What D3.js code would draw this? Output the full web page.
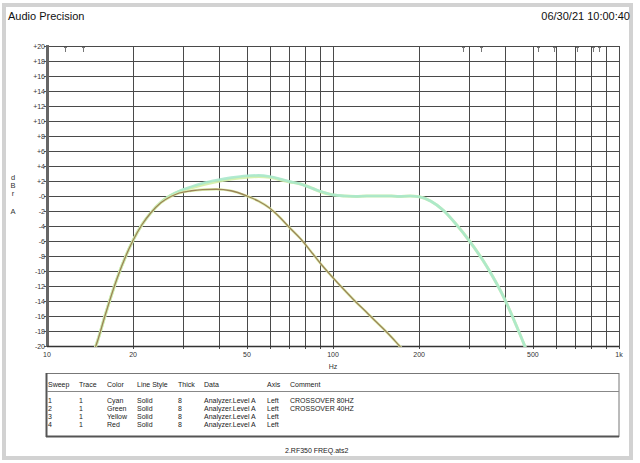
<!DOCTYPE html>
<html>
<head>
<meta charset="utf-8">
<script src="https://cdn.jsdelivr.net/npm/d3@7"></script>
<style>
  html, body { margin: 0; padding: 0; background: #fff; }
  svg { display: block; font-family: "Liberation Sans", Arial, sans-serif; }
</style>
</head>
<body>
<svg id="chart" width="640" height="463"></svg>
<script>
// sweep frequencies (Hz) and levels (dBr A)
const freqHz = [14, 15, 16, 17.5, 20, 21.5, 23, 25, 27, 29, 32, 35, 39, 44, 50, 55, 60, 65, 70, 77, 85, 90, 100, 110, 120, 131, 140, 150, 160, 170, 186, 200, 220, 243, 270, 300, 345, 400, 440, 480];

const cyanDb   = [-22.5, -19.4, -15.8, -11.2, -5.9, -3.8, -2.3, -0.85, 0.05, 0.65, 1.25, 1.7, 2.1, 2.45, 2.7, 2.75, 2.6, 2.3, 1.95, 1.6, 1.0, 0.65, 0.15, 0.0, -0.05, 0.0, 0.0, 0.0, 0.0, -0.05, 0.0, -0.1, -0.7, -1.9, -3.8, -6.0, -9.4, -13.9, -17.5, -21];
const yellowDb = [-22.5, -19.4, -15.8, -11.2, -5.9, -3.8, -2.3, -0.85, 0.05, 0.6, 1.1, 1.5, 1.9, 2.25, 2.5, 2.6, 2.5, 2.2, 1.9, 1.6, 1.0, 0.6, 0.15, 0.0, -0.05, 0.0, 0.0, 0.0, 0.0, -0.05, 0.0, -0.1, -0.7, -1.9, -3.8, -6.0, -9.4, -13.9, -17.5, -21];
const greenDb  = [-22.5, -19.4, -15.8, -11.2, -5.9, -3.8, -2.3, -0.9, -0.1, 0.4, 0.7, 0.85, 0.9, 0.7, 0.0, -0.7, -1.6, -2.8, -4.1, -5.7, -7.7, -8.9, -10.9, -12.6, -14.1, -15.5, -16.6, -17.7, -18.8, -19.9, -21.5, -23, -25, -27, -29, -31, -33, -35, -37, -39];
const redDb    = [-22.5, -19.4, -15.8, -11.2, -5.9, -3.8, -2.3, -0.9, -0.1, 0.4, 0.7, 0.85, 0.9, 0.7, 0.0, -0.7, -1.6, -2.8, -4.1, -5.7, -7.7, -8.9, -10.9, -12.6, -14.1, -15.5, -16.6, -17.7, -18.8, -19.9, -21.5, -23, -25, -27, -29, -31, -33, -35, -37, -39];

const yTicks = [20, 18, 16, 14, 12, 10, 8, 6, 4, 2, 0, -2, -4, -6, -8, -10, -12, -14, -16, -18, -20];
const xGridHz = [20, 30, 40, 50, 60, 70, 80, 90, 100, 200, 300, 400, 500, 600, 700, 800, 900, 1000];
const xLabelHz = [10, 20, 50, 100, 200, 500, 1000];
const cursorHz = [11.6, 13.4, 285, 329, 521, 593, 713, 811, 851];

const legendHead = ["Sweep", "Trace", "Color", "Line Style", "Thick", "Data", "Axis", "Comment"];
const legendRows = [
  ["1", "1", "Cyan",   "Solid", "8", "Analyzer.Level A", "Left", "CROSSOVER 80HZ"],
  ["2", "1", "Green",  "Solid", "8", "Analyzer.Level A", "Left", "CROSSOVER 40HZ"],
  ["3", "1", "Yellow", "Solid", "8", "Analyzer.Level A", "Left", ""],
  ["4", "1", "Red",    "Solid", "8", "Analyzer.Level A", "Left", ""]
];

const svg = d3.select("#chart");
const L = 47, R = 619, T = 46, B = 346;

const x = d3.scaleLog().domain([10, 1000]).range([L, R]);
const y = d3.scaleLinear().domain([-20, 20]).range([B, T]);

// outer frame
svg.append("rect")
  .attr("x", 4).attr("y", 5).attr("width", 627).attr("height", 453)
  .attr("fill", "none").attr("stroke", "#d2d2d2").attr("stroke-width", 4);

svg.append("text").attr("x", 8).attr("y", 20)
  .attr("font-size", 11).attr("fill", "#111").text("Audio Precision");
svg.append("text").attr("x", 630).attr("y", 20).attr("text-anchor", "end")
  .attr("font-size", 11).attr("fill", "#111").text("06/30/21 10:00:40");

// grid
let grid = svg.append("g").attr("stroke", "#4a4a4a").attr("stroke-width", 1);
grid.selectAll("line.h").data(yTicks).enter().append("line")
  .attr("x1", L).attr("x2", R)
  .attr("y1", d => Math.round(y(d)) + 0.5).attr("y2", d => Math.round(y(d)) + 0.5);
grid.selectAll("line.v").data(xGridHz).enter().append("line")
  .attr("x1", d => Math.round(x(d)) + 0.5).attr("x2", d => Math.round(x(d)) + 0.5)
  .attr("y1", T).attr("y2", B + 3);

// y ticks + labels
svg.append("g").selectAll("line").data(yTicks).enter().append("line")
  .attr("x1", L - 3).attr("x2", L)
  .attr("y1", d => Math.round(y(d)) + 0.5).attr("y2", d => Math.round(y(d)) + 0.5)
  .attr("stroke", "#555");
svg.append("g").selectAll("text").data(yTicks).enter().append("text")
  .attr("x", L - 2).attr("y", d => y(d) + 2.5)
  .attr("text-anchor", "end").attr("font-size", 7).attr("fill", "#333")
  .text(d => (d > 0 ? "+" : "-") + Math.abs(d));

// left axis (thick)
svg.append("line").attr("x1", L + 0.5).attr("x2", L + 0.5).attr("y1", T - 1).attr("y2", B + 1)
  .attr("stroke", "#666").attr("stroke-width", 3);
svg.append("line").attr("x1", L).attr("x2", R).attr("y1", B + 0.5).attr("y2", B + 0.5)
  .attr("stroke", "#333").attr("stroke-width", 1.5);

// x labels
svg.append("g").selectAll("text").data(xLabelHz).enter().append("text")
  .attr("x", d => x(d)).attr("y", 357)
  .attr("text-anchor", "middle").attr("font-size", 7).attr("fill", "#333")
  .text(d => d >= 1000 ? (d / 1000) + "k" : d);
svg.append("text").attr("x", 333).attr("y", 369).attr("text-anchor", "middle")
  .attr("font-size", 7).attr("fill", "#333").text("Hz");

// vertical axis title
const yTitle = [["d", 180], ["B", 188], ["r", 196], ["A", 214]];
svg.append("g").selectAll("text").data(yTitle).enter().append("text")
  .attr("x", 13).attr("y", d => d[1]).attr("text-anchor", "middle")
  .attr("font-size", 7.5).attr("fill", "#333").text(d => d[0]);

// cursor marks at top
let cur = svg.append("g").attr("stroke", "#777").attr("stroke-width", 1);
cursorHz.forEach(function (f) {
  let cx = Math.round(x(f)) + 0.5;
  cur.append("line").attr("x1", cx).attr("x2", cx).attr("y1", T + 1).attr("y2", T + 6);
  cur.append("line").attr("x1", cx - 1.5).attr("x2", cx + 1.5).attr("y1", T + 1.5).attr("y2", T + 1.5);
});

// traces
svg.append("clipPath").attr("id", "plotClip").append("rect")
  .attr("x", L).attr("y", T).attr("width", R - L).attr("height", B - T + 1);

const line = d3.line()
  .x(d => x(d[0])).y(d => y(d[1]))
  .curve(d3.curveMonotoneX);

const traces = [
  { name: "Yellow", db: yellowDb, color: "#d2eea6", width: 3 },
  { name: "Cyan",   db: cyanDb,   color: "#a8e8cc", width: 2.6 },
  { name: "Green",  db: greenDb,  color: "#dcefa8", width: 2.6 },
  { name: "Red",    db: redDb,    color: "#93784f", width: 1.3 }
];

let plot = svg.append("g").attr("clip-path", "url(#plotClip)");
traces.forEach(function (t) {
  plot.append("path")
    .datum(freqHz.map((f, i) => [f, t.db[i]]))
    .attr("d", line)
    .attr("fill", "none")
    .attr("stroke", t.color)
    .attr("stroke-width", t.width)
    .attr("stroke-opacity", 0.9)
    .attr("stroke-linejoin", "round");
});

// legend table
const lt = 373, lb = 436;
svg.append("rect").attr("x", 46.5).attr("y", lt + 0.5).attr("width", R - 46.5).attr("height", lb - lt)
  .attr("fill", "none").attr("stroke", "#777").attr("stroke-width", 1);
svg.append("line").attr("x1", 46.5).attr("x2", 46.5).attr("y1", lt).attr("y2", lb + 1)
  .attr("stroke", "#555").attr("stroke-width", 2);
svg.append("line").attr("x1", 46).attr("x2", R).attr("y1", lb + 0.5).attr("y2", lb + 0.5)
  .attr("stroke", "#555").attr("stroke-width", 2);
svg.append("line").attr("x1", 47).attr("x2", R).attr("y1", 391.5).attr("y2", 391.5)
  .attr("stroke", "#888").attr("stroke-width", 1);

const colX = [48, 79, 107, 137, 178, 204, 267, 290];
svg.append("g").selectAll("text").data(legendHead).enter().append("text")
  .attr("x", (d, i) => colX[i]).attr("y", 386.5)
  .attr("font-size", 7).attr("fill", "#222").text(d => d);

legendRows.forEach(function (row, r) {
  svg.append("g").selectAll("text").data(row).enter().append("text")
    .attr("x", (d, i) => colX[i]).attr("y", 403 + r * 8)
    .attr("font-size", 7).attr("fill", "#222").text(d => d);
});

svg.append("text").attr("x", 285).attr("y", 453)
  .attr("font-size", 7).attr("fill", "#222").text("2.RF350 FREQ.ats2");
</script>
</body>
</html>
